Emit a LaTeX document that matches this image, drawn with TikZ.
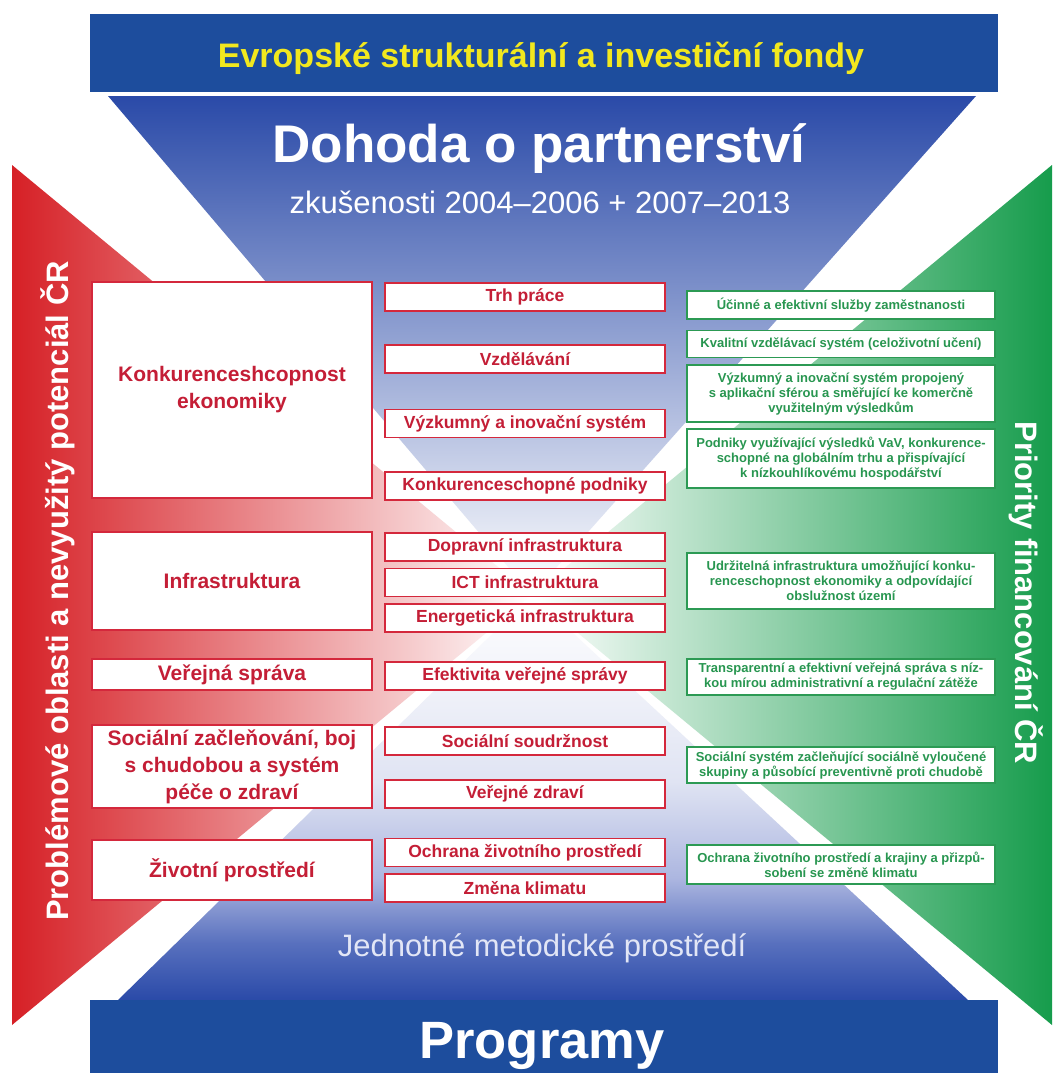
\documentclass[tikz,border=0pt]{standalone}
\usepackage{fontspec}
\setmainfont{Liberation Sans}
\usetikzlibrary{positioning}
\definecolor{fondblue}{RGB}{29,77,157}
\definecolor{triblue}{RGB}{42,74,168}
\definecolor{trimid}{RGB}{158,168,214}
\definecolor{lowblue}{RGB}{88,112,190}
\definecolor{lowlight}{RGB}{172,182,224}
\definecolor{lowmid}{RGB}{224,228,243}
\definecolor{sidered}{RGB}{214,32,38}
\definecolor{sidesalmon}{RGB}{233,132,98}
\definecolor{sidegreen}{RGB}{22,156,76}
\definecolor{greenmid}{RGB}{128,200,150}
\definecolor{boxred}{RGB}{212,40,60}
\definecolor{textred}{RGB}{196,30,54}
\definecolor{boxgreen}{RGB}{44,154,84}
\definecolor{textgreen}{RGB}{40,150,80}
\definecolor{fondyellow}{RGB}{242,232,30}
\definecolor{paleblue}{RGB}{226,230,246}
\pgfdeclareverticalshading{lowfade}{100bp}{color(0bp)=(triblue); color(25bp)=(triblue);
    color(32bp)=(lowblue); color(40bp)=(lowlight); color(52bp)=(lowmid);
    color(75bp)=(white); color(100bp)=(white)}
\tikzstyle{Box} = [
    draw,
    fill = white,
    line width = 1.6pt,
    inner sep = 0pt,
    align = center
]

\begin{document}
\begin{tikzpicture}[
x = 1pt, y = -1pt,
area/.style = {
    Box, draw = boxred, text = textred,
    minimum width = 280pt,
    font = \bfseries\fontsize{21}{27}\selectfont
    },
topic/.style = {
    Box, draw = boxred, text = textred,
    minimum width = 280pt, minimum height = 28pt,
    font = \bfseries\fontsize{17.5}{20}\selectfont
    },
goal/.style = {
    Box, draw = boxgreen, text = textgreen,
    minimum width = 308pt,
    font = \bfseries\fontsize{13}{15}\selectfont
    }
]

\useasboundingbox (0,0) rectangle (1063,1073);
\fill[white] (0,0) rectangle (1063,1073);

% four fading triangles
\shade[left color = sidered, middle color = sidesalmon, right color = white]
    (12,165) -- (12,1025) -- (532,595) -- cycle;
\shade[right color = sidegreen, middle color = greenmid, left color = white]
    (1052,165) -- (1052,1025) -- (532,595) -- cycle;
\shade[top color = triblue, middle color = trimid, bottom color = white]
    (108,96) -- (976,96) -- (532,595) -- cycle;
\shade[shading = lowfade]
    (118,1000) -- (968,1000) -- (532,595) -- cycle;

% top and bottom bars
\fill[fondblue] (90,14) rectangle (998,92);
\fill[fondblue] (90,1000) rectangle (998,1073);

\node[anchor = base, text = fondyellow, font = \bfseries\fontsize{34}{40}\selectfont] (fondy) at (541,67) {Evropské strukturální a investiční fondy};
\node[anchor = base, text = white, font = \bfseries\fontsize{53}{60}\selectfont] (dohoda) at (539,162) {Dohoda o partnerství};
\node[anchor = base, text = white, font = \fontsize{31}{36}\selectfont] (zkusenosti) at (540,213) {zkušenosti 2004–2006 + 2007–2013};
\node[anchor = base, text = paleblue, font = \fontsize{31}{36}\selectfont] (metodika) at (542,956) {Jednotné metodické prostředí};
\node[anchor = base, text = white, font = \bfseries\fontsize{52.5}{60}\selectfont] (programy) at (542,1058) {Programy};

\node[rotate = 90, text = white, font = \bfseries\fontsize{31}{36}\selectfont] (problemy) at (58,591) {Problémové oblasti a nevyužitý potenciál ČR};
\node[rotate = -90, text = white, font = \bfseries\fontsize{31}{36}\selectfont] (priority) at (1026,593) {Priority financování ČR};

% problem areas
\node[area, minimum height = 216pt] (konk) at (232,390) {Konkurenceshcopnost\\ekonomiky};
\node[area, minimum height = 98pt] (infra) at (232,581) {Infrastruktura};
\node[area, minimum height = 31pt] (sprava) at (232,674.5) {Veřejná správa};
\node[area, minimum height = 83pt] (social) at (232,766.5) {Sociální začleňování, boj\\s chudobou a systém\\péče o zdraví};
\node[area, minimum height = 60pt] (zivot) at (232,870) {Životní prostředí};

% topics
\node[topic] (trh) at (525,297) {Trh práce};
\node[topic] (vzdel) at (525,359) {Vzdělávání};
\node[topic] (vyzkum) at (525,423.5) {Výzkumný a inovační systém};
\node[topic] (podniky) at (525,486) {Konkurenceschopné podniky};
\node[topic] (doprava) at (525,547) {Dopravní infrastruktura};
\node[topic, below = 6pt of doprava] (ict) {ICT infrastruktura};
\node[topic, below = 6pt of ict] (energie) {Energetická infrastruktura};
\node[topic] (efekt) at (525,676) {Efektivita veřejné správy};
\node[topic] (soudrz) at (525,741) {Sociální soudržnost};
\node[topic] (zdravi) at (525,794) {Veřejné zdraví};
\node[topic] (ochrana) at (525,852.5) {Ochrana životního prostředí};
\node[topic, below = 6pt of ochrana] (klima) {Změna klimatu};

% priorities
\node[goal, minimum height = 28pt] (sluzby) at (841,305) {Účinné a efektivní služby zaměstnanosti};
\node[goal, minimum height = 27pt] (vzdelsys) at (841,344) {Kvalitní vzdělávací systém (celoživotní učení)};
\node[goal, minimum height = 57pt] (vyzkumsys) at (841,393.5) {Výzkumný a inovační systém propojený\\s aplikační sférou a směřující ke komerčně\\využitelným výsledkům};
\node[goal, minimum height = 59pt] (podnikyvav) at (841,458.5) {Podniky využívající výsledků VaV, konkurence-\\schopné na globálním trhu a přispívající\\k nízkouhlíkovému hospodářství};
\node[goal, minimum height = 56pt] (udrzitelna) at (841,581) {Udržitelná infrastruktura umožňující konku-\\renceschopnost ekonomiky a odpovídající\\obslužnost území};
\node[goal, minimum height = 36pt] (transparent) at (841,677) {Transparentní a efektivní veřejná správa s níz-\\kou mírou administrativní a regulační zátěže};
\node[goal, minimum height = 36pt] (socsys) at (841,765) {Sociální systém začleňující sociálně vyloučené\\skupiny a působící preventivně proti chudobě};
\node[goal, minimum height = 39pt] (krajina) at (841,864.5) {Ochrana životního prostředí a krajiny a přizpů-\\sobení se změně klimatu};

\end{tikzpicture}
\end{document}
